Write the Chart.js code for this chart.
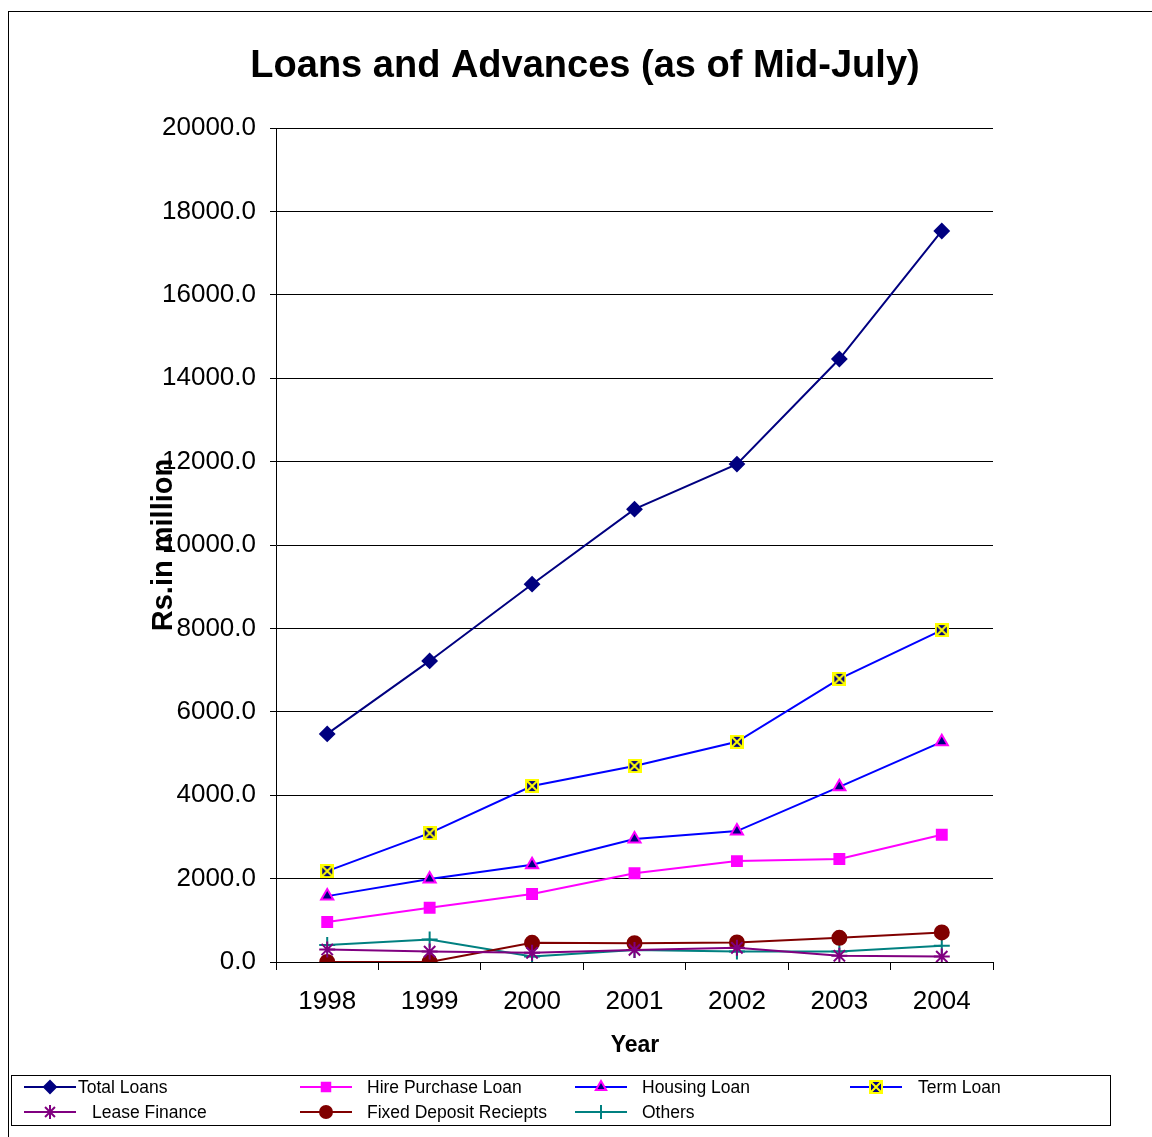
<!DOCTYPE html>
<html>
<head>
<meta charset="utf-8">
<script src="https://cdn.jsdelivr.net/npm/chart.js@4/dist/chart.umd.min.js"></script>
<style>
  html, body { margin: 0; padding: 0; background: #fff; }
  #wrap { width: 1152px; height: 1137px; position: relative; }
</style>
</head>
<body>
<div id="wrap"><canvas id="chart"></canvas></div>
<script>
// values (Rs. in million)
const years = ['1998', '1999', '2000', '2001', '2002', '2003', '2004'];
const totalLoans = [5470, 7220, 9060, 10860, 11940, 14460, 17530];
const hirePurchase = [960, 1300, 1630, 2130, 2420, 2470, 3050];
const housingLoan = [1580, 1990, 2330, 2950, 3140, 4200, 5280];
const termLoan = [2180, 3090, 4220, 4700, 5280, 6790, 7960];
const leaseFinance = [300, 250, 220, 290, 340, 150, 130];
const fixedDeposit = [0, 0, 460, 450, 470, 580, 710];
const others = [410, 540, 130, 290, 250, 250, 390];
const yTicks = [0, 2000, 4000, 6000, 8000, 10000, 12000, 14000, 16000, 18000, 20000];

const FONT = "'Liberation Sans', Arial, sans-serif";

// yellow-crossed navy square used by Term Loan
function termMarker(size) {
    const c = document.createElement('canvas');
    c.width = size; c.height = size;
    const g = c.getContext('2d');
    g.fillStyle = '#000080';
    g.fillRect(0, 0, size, size);
    g.strokeStyle = '#ffff00';
    g.lineWidth = 2;
    g.strokeRect(1, 1, size - 2, size - 2);
    g.beginPath();
    g.moveTo(2, 2); g.lineTo(size - 2, size - 2);
    g.moveTo(size - 2, 2); g.lineTo(2, size - 2);
    g.stroke();
    return c;
}

const series = [
    {label: 'Total Loans', data: totalLoans, color: '#000080', fill: '#000080', edge: '#000080', style: 'rectRot', r: 7},
    {label: 'Hire Purchase Loan', data: hirePurchase, color: '#ff00ff', fill: '#ff00ff', edge: '#ff00ff', style: 'rect', r: 7},
    {label: 'Housing Loan', data: housingLoan, color: '#0000ff', fill: '#000080', edge: '#ff00ff', style: 'triangle', r: 7},
    {label: 'Term Loan', data: termLoan, color: '#0000ff', fill: '#000080', edge: '#ffff00', style: termMarker(14), r: 7},
    {label: 'Lease Finance', data: leaseFinance, color: '#800080', fill: '#800080', edge: '#800080', style: 'star', r: 8},
    {label: 'Fixed Deposit Reciepts', data: fixedDeposit, color: '#800000', fill: '#800000', edge: '#800000', style: 'circle', r: 7},
    {label: 'Others', data: others, color: '#008080', fill: '#008080', edge: '#008080', style: 'cross', r: 8},
];

// legend slots: [line start x, text x, row y]
const legendPos = [
    [24, 78, 1087], [300, 367, 1087], [575, 642, 1087], [850, 918, 1087],
    [24, 92, 1112], [300, 367, 1112], [575, 642, 1112],
];

const decor = {
    id: 'decor',
    afterDraw(chart) {
        const ctx = chart.ctx;
        ctx.save();
        // outer frame
        ctx.strokeStyle = '#000';
        ctx.lineWidth = 1;
        ctx.strokeRect(8.5, 11.5, 1300, 1300);

        ctx.fillStyle = '#000';
        ctx.textAlign = 'center';
        ctx.textBaseline = 'middle';
        ctx.font = 'bold 38px ' + FONT;
        ctx.fillText('Loans and Advances (as of Mid-July)', 585, 67);

        ctx.font = 'bold 23px ' + FONT;
        ctx.fillText('Year', 635, 1046);

        ctx.save();
        ctx.translate(172, 545);
        ctx.rotate(-Math.PI / 2);
        ctx.textBaseline = 'alphabetic';
        ctx.font = 'bold 29px ' + FONT;
        ctx.fillText('Rs.in million', 0, 0);
        ctx.restore();

        // legend box
        ctx.strokeStyle = '#000';
        ctx.lineWidth = 1;
        ctx.strokeRect(11.5, 1075.5, 1099, 50);
        ctx.font = '17.5px ' + FONT;
        ctx.textAlign = 'left';
        series.forEach((s, i) => {
            const [lx, tx, y] = legendPos[i];
            ctx.strokeStyle = s.color;
            ctx.lineWidth = 2;
            ctx.beginPath();
            ctx.moveTo(lx, y);
            ctx.lineTo(lx + 52, y);
            ctx.stroke();
            ctx.fillStyle = s.fill;
            ctx.strokeStyle = s.edge;
            Chart.helpers.drawPoint(ctx, {pointStyle: s.style, radius: s.r - 1, borderWidth: 2, rotation: 0}, lx + 26, y);
            ctx.fillStyle = '#000';
            ctx.fillText(s.label, tx, y + 1);
        });
        ctx.restore();
    }
};

new Chart(document.getElementById('chart'), {
    type: 'line',
    data: {
        labels: years,
        datasets: series.map(s => ({
            label: s.label,
            data: s.data,
            borderColor: s.color,
            borderWidth: 2,
            backgroundColor: s.fill,
            pointBackgroundColor: s.fill,
            pointBorderColor: s.edge,
            pointBorderWidth: 2,
            pointStyle: s.style,
            pointRadius: s.r,
            pointHoverRadius: s.r,
            tension: 0,
        })),
    },
    options: {
        responsive: true,
        maintainAspectRatio: false,
        animation: false,
        layout: {padding: {left: 0, right: 159, top: 128, bottom: 0}},
        plugins: {
            legend: {display: false},
            title: {display: false},
            tooltip: {enabled: false},
        },
        scales: {
            x: {
                offset: true,
                afterFit: (scale) => { scale.height = 175; },
                grid: {offset: true, drawOnChartArea: false, drawTicks: true, tickLength: 8, color: '#000'},
                border: {color: '#000', width: 1},
                ticks: {color: '#000', font: {family: FONT, size: 26}, padding: 16, maxRotation: 0},
            },
            y: {
                min: 0,
                max: 20000,
                afterFit: (scale) => { scale.width = 276; },
                afterBuildTicks: (scale) => { scale.ticks = yTicks.map(v => ({value: v})); },
                grid: {color: '#000', tickLength: 6, lineWidth: 1},
                border: {color: '#000', width: 1},
                ticks: {
                    color: '#000',
                    font: {family: FONT, size: 26},
                    padding: 14,
                    callback: (v) => Number(v).toFixed(1),
                },
            },
        },
    },
    plugins: [decor],
});
</script>
</body>
</html>
